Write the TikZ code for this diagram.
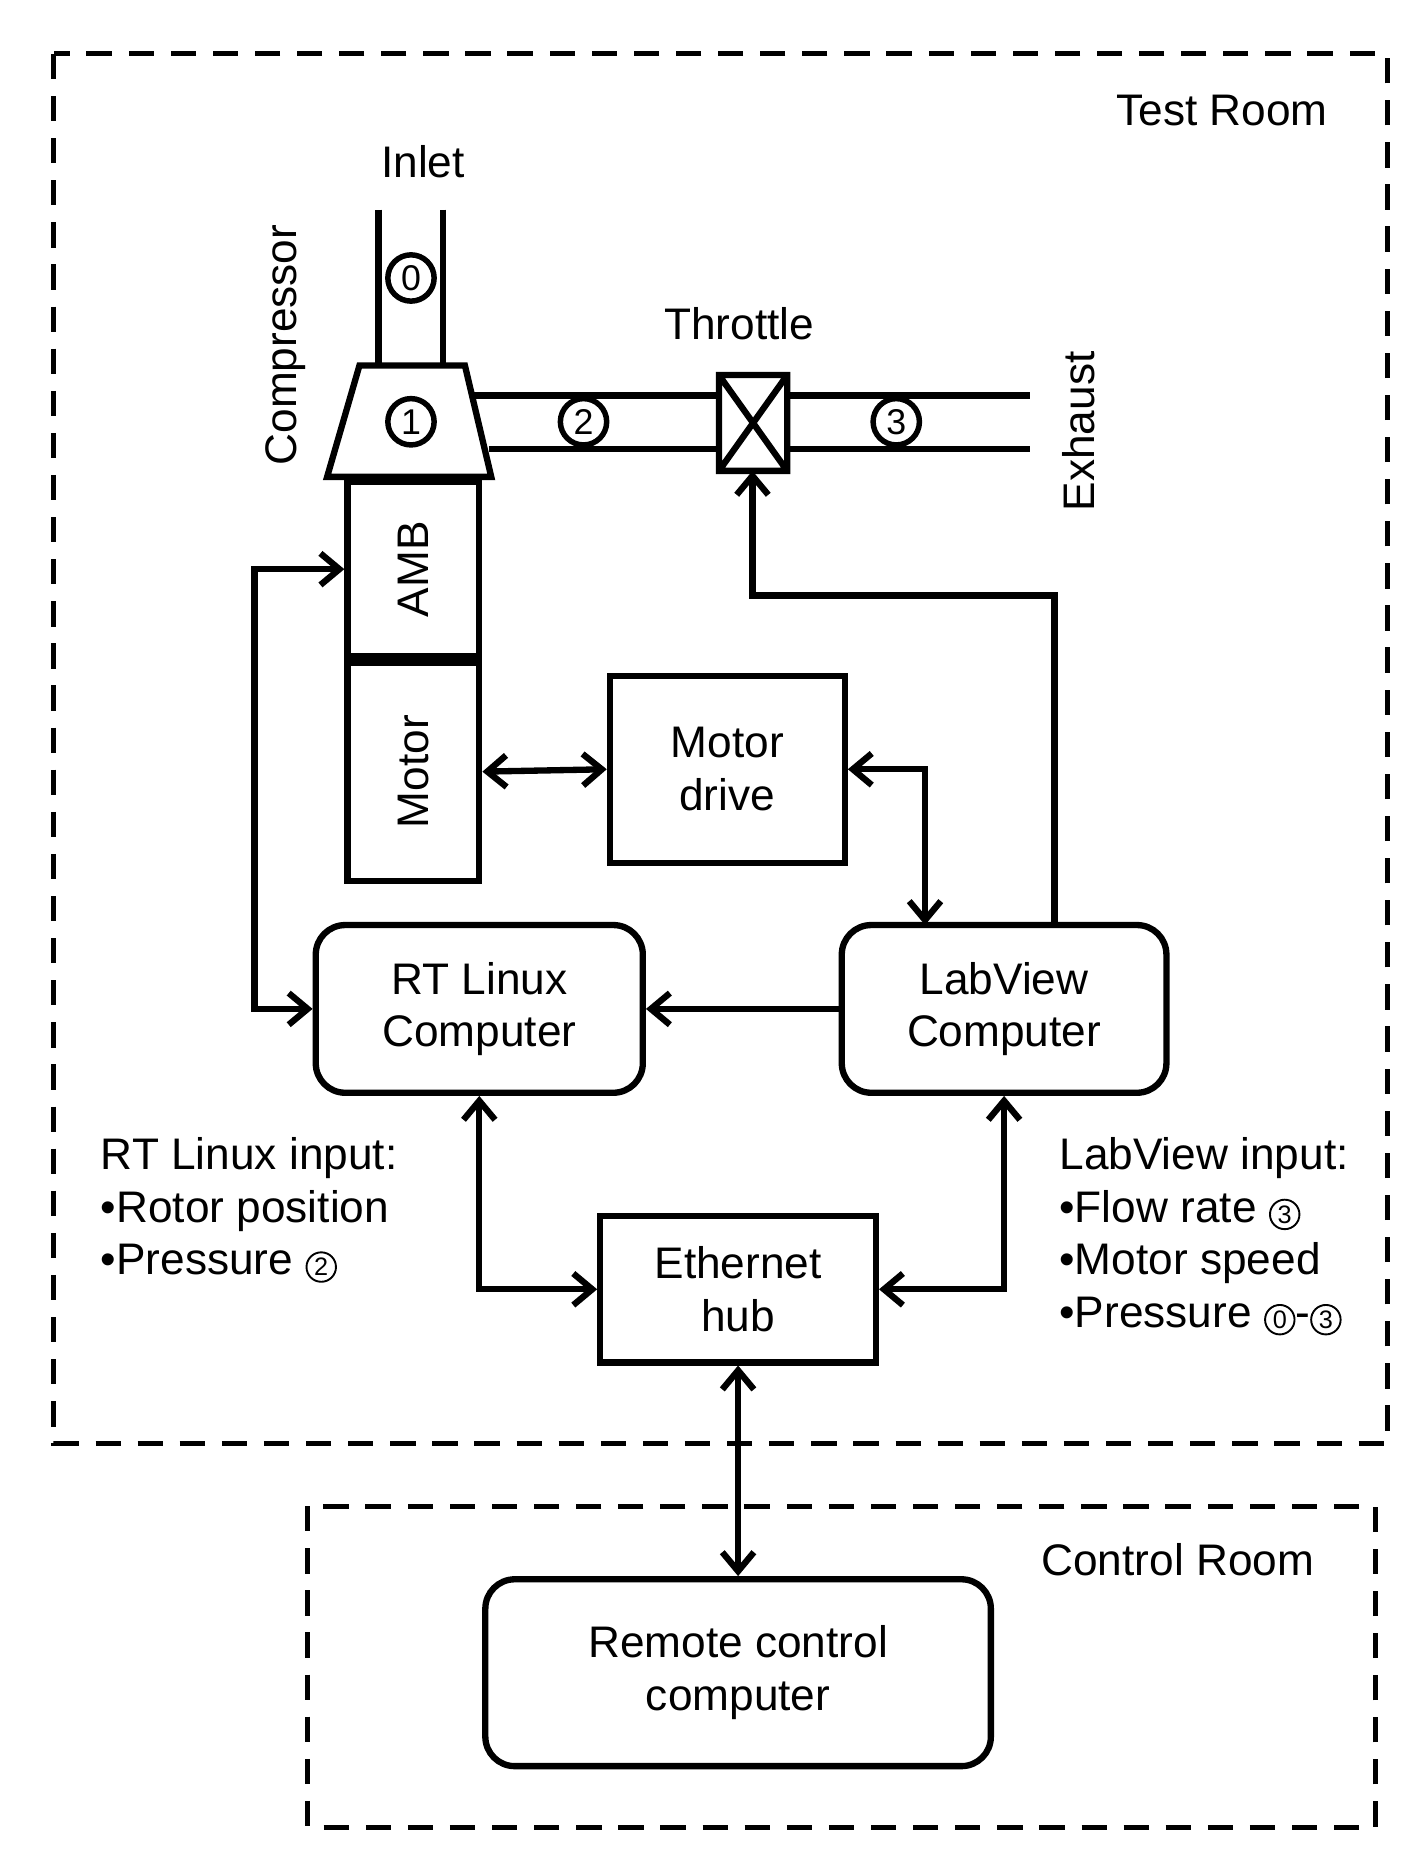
\documentclass[tikz,border=0pt]{standalone}
\usepackage{fontspec}
\setmainfont{Liberation Sans}
\usetikzlibrary{positioning}
\usetikzlibrary{arrows.meta}
\tikzset{box/.style={draw,line width=3pt,inner sep=0pt},
         rbox/.style={box,rounded corners=14pt},
         room/.style={draw,line width=2.4pt,dash pattern=on 12pt off 8pt},
         link/.style={line width=3pt,-{Straight Barb[length=9pt,width=15pt]}},
         dlink/.style={link,{Straight Barb[length=9pt,width=15pt]}-{Straight Barb[length=9pt,width=15pt]}},
         pipe/.style={line width=3pt},
         num/.style={circle,draw,line width=2.6pt,inner sep=1pt,minimum size=22pt,font=\fontsize{17}{17}\selectfont},
         txt/.style={font=\fontsize{21}{25}\selectfont,align=center}}
\newcommand{\cnum}[1]{\tikz[baseline=-0.8ex]\node[circle,draw,line width=0.9pt,inner sep=0.5pt,minimum size=14pt,font=\fontsize{12}{12}\selectfont]{#1};}
\begin{document}
\begin{tikzpicture}[x=0.02cm,y=-0.02cm]
	\useasboundingbox (0,0) rectangle (1190,1559);
	% rooms
	\draw[room] (45,45) rectangle (1158,1205);
	\draw[room] (257,1257) rectangle (1148,1525);
	\node[txt] (test) at (1020,92) {Test Room};
	\node[txt] (ctrl) at (983,1302) {Control Room};
	
	% compressor and pipes
	\node[txt] (inlet) at (353,135) {Inlet};
	\draw[pipe] (316,175) -- (316,305) (370,175) -- (370,305);
	\node[num] (n0) at (343,232) {0};
	\draw[pipe] (300,305) -- (388,305) -- (410,398) -- (273,398) -- cycle;
	\node[num] (n1) at (343,352) {1};
	\node[txt,rotate=90] (comp) at (238,288) {Compressor};
	\draw[pipe] (394,330) -- (600,330) (408,375) -- (600,375);
	\draw[pipe] (657,330) -- (860,330) (657,375) -- (860,375);
	\draw[pipe] (600,313) rectangle (657,393) (600,313) -- (657,393) (657,313) -- (600,393);
	\coordinate (thrb) at (628,393);
	\node[num] (n2) at (487,352) {2};
	\node[num] (n3) at (748,352) {3};
	\node[txt] (throt) at (617,270) {Throttle};
	\node[txt,rotate=90] (exh) at (900,360) {Exhaust};
	
	% boxes
	\node[box,minimum width=2.2cm,minimum height=2.9cm] (amb) at (345,475) {};
	\node[txt,rotate=90] at (amb) {AMB};
	\node[box,minimum width=2.2cm,minimum height=3.64cm] (motor) at (345,644) {};
	\node[txt,rotate=90] at (motor) {Motor};
	\node[box,txt,minimum width=3.92cm,minimum height=3.12cm] (drive) at (607,642) {Motor\\drive};
	\node[rbox,txt,minimum width=5.46cm,minimum height=2.8cm] (rt) at (400,842) {RT Linux\\Computer};
	\node[rbox,txt,minimum width=5.42cm,minimum height=2.8cm] (lv) at (838,842) {LabView\\Computer};
	\node[box,txt,minimum width=4.6cm,minimum height=2.44cm] (hub) at (616,1076) {Ethernet\\hub};
	\node[rbox,txt,minimum width=8.44cm,minimum height=3.12cm] (rc) at (616,1396) {Remote control\\computer};
	
	% input lists
	\node[txt,align=left,anchor=north west] (rtin) at (78,943) {RT Linux input:\\\textbullet Rotor position\\\textbullet Pressure \cnum{2}};
	\node[txt,align=left,anchor=north west] (lvin) at (878,943) {LabView input:\\\textbullet Flow rate \cnum{3}\\\textbullet Motor speed\\\textbullet Pressure \cnum{0}-\cnum{3}};
	
	% connections
	\draw[dlink] (amb.west) -- ++(-75,0) |- (rt.west);
	\draw[dlink] (motor.east) -- (drive.west);
	\draw[dlink] (drive.east) -| (772,772);
	\draw[link] (880,772) |- (628,497) -- (thrb);
	\draw[link] (lv.west) -- (rt.east);
	\draw[dlink] (rt.south) |- (hub.west);
	\draw[dlink] (lv.south) |- (hub.east);
	\draw[dlink] (hub.south) -- (rc.north);
\end{tikzpicture}
\end{document}
